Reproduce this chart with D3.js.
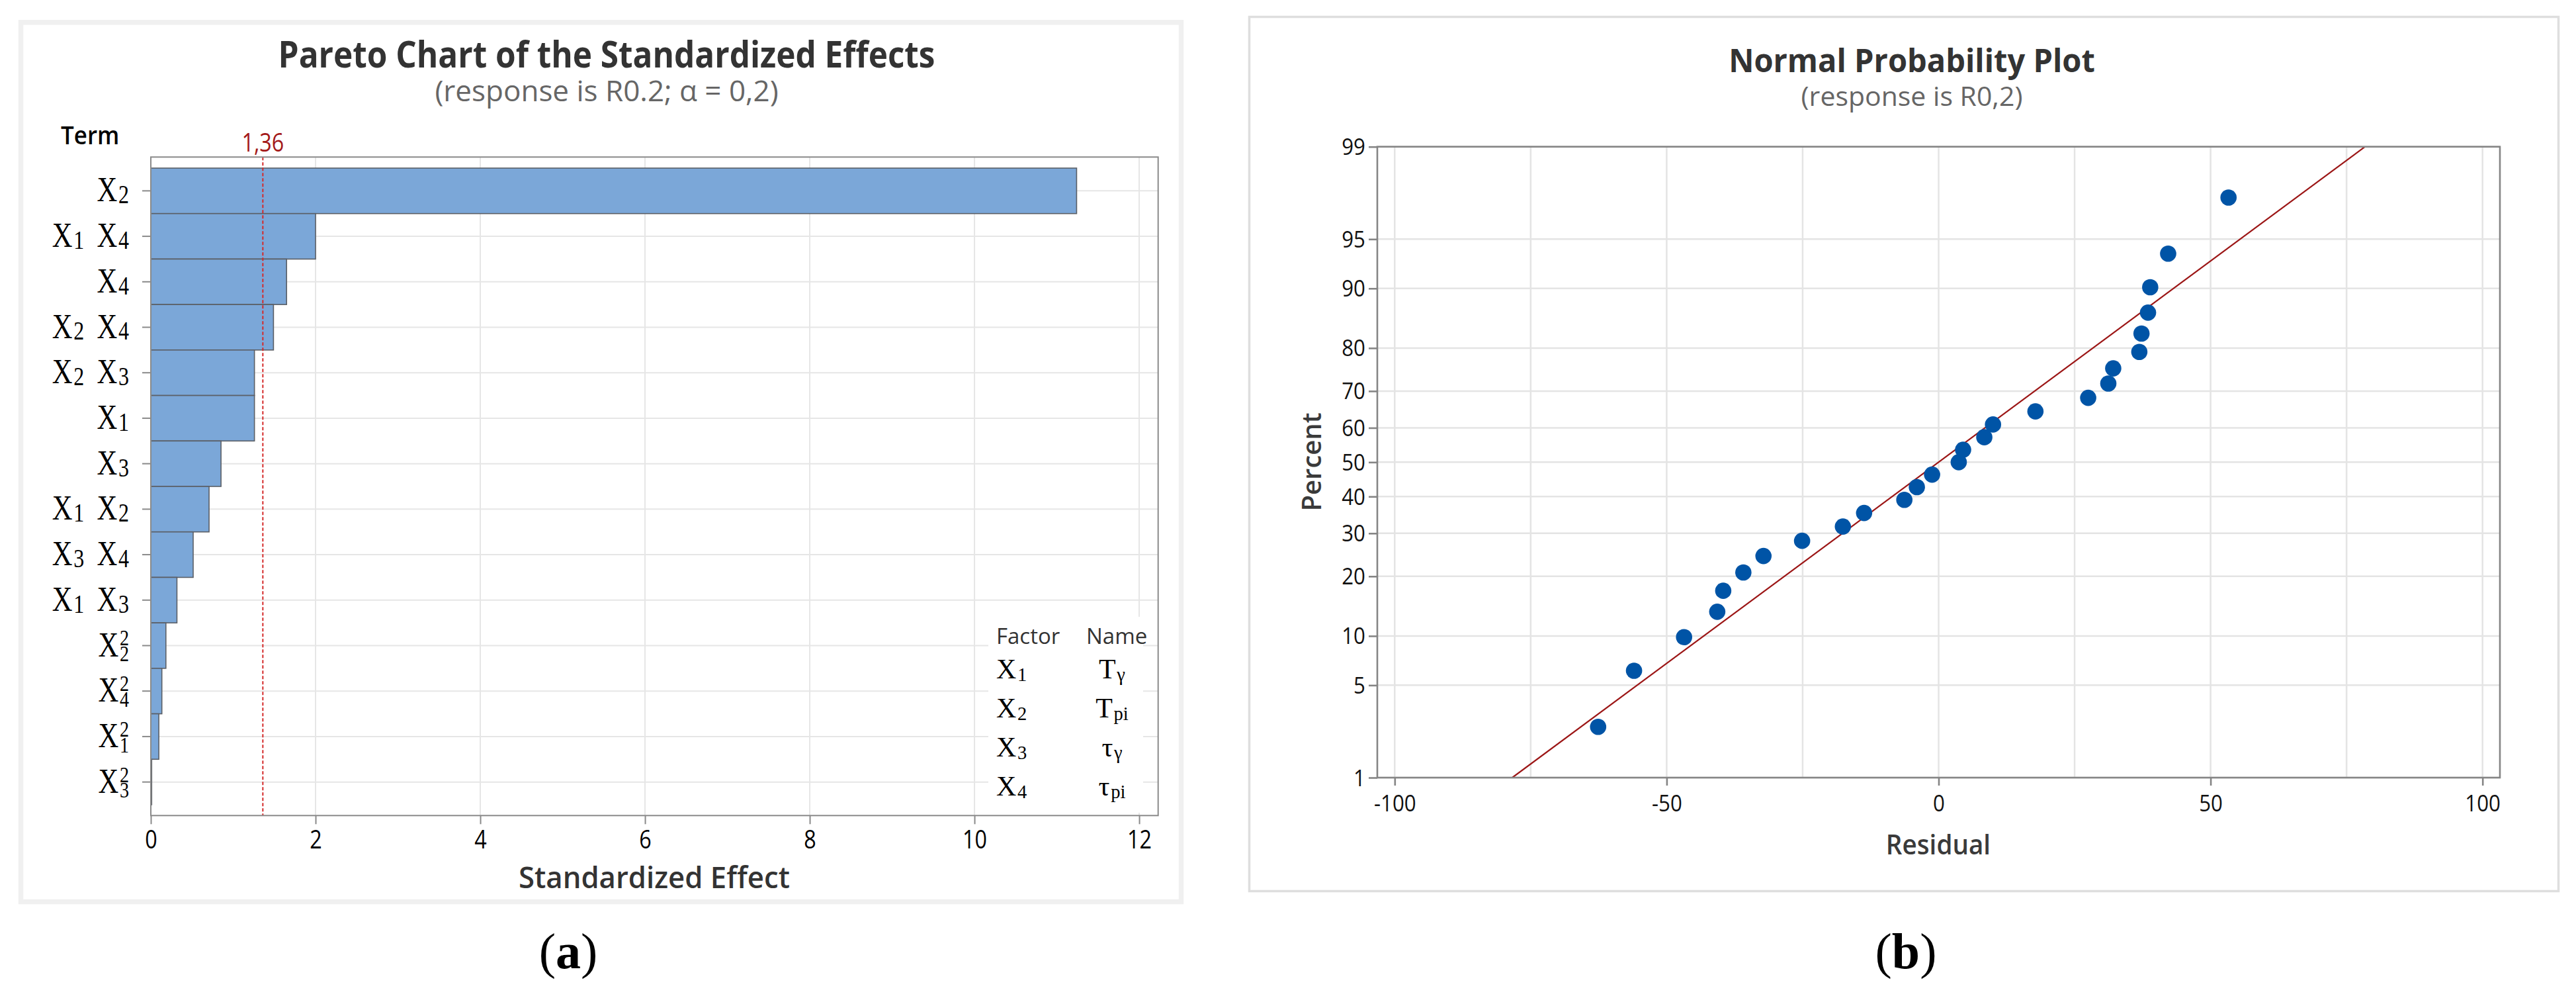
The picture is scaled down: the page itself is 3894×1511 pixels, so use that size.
<!DOCTYPE html>
<html><head><meta charset="utf-8">
<script src="https://cdn.jsdelivr.net/npm/d3@7"></script>
<style>body{margin:0;background:#fff;} svg{display:block;} text{white-space:pre;}</style>
</head><body><svg id="c" width="3894" height="1511"></svg>
<script>
// ---------- data ----------
const paretoTerms = ["X2","X1 X4","X4","X2 X4","X2 X3","X1","X3","X1 X2","X3 X4","X1 X3","X2^2","X4^2","X1^2","X3^2"];
const paretoEffects = [11.24,2.00,1.648,1.489,1.258,1.258,0.852,0.707,0.514,0.317,0.183,0.134,0.097,0.01];
const paretoTicks = [0,2,4,6,8,10,12];
const alphaRef = 1.36;
const alphaLabel = "1,36";
const legendFactors = ["X1","X2","X3","X4"];
const legendNames = ["T_γ","T_pi","τ_γ","τ_pi"];

const residuals = [-62.6,-56.0,-46.8,-40.7,-39.6,-35.9,-32.2,-25.1,-17.6,-13.7,-6.3,-4.0,-1.2,3.7,4.5,8.4,10.0,17.8,27.5,31.2,32.1,36.9,37.3,38.5,38.9,42.2,53.3];
const percents = [2.55,6.2,9.85,13.5,17.15,20.8,24.45,28.1,31.75,35.4,39.05,42.7,46.35,50.0,53.65,57.3,60.95,64.6,68.25,71.9,75.55,79.2,82.85,86.5,90.15,93.8,97.45];
const probTicks = [1,5,10,20,30,40,50,60,70,80,90,95,99];
const residTicks = [-100,-50,0,50,100];
const residGrid = [-100,-75,-50,-25,0,25,50,75,100];
const fitResid = [-78.4, 78.4];
const fitPercent = [1, 99];

// ---------- helpers ----------
const SANS = "'Open Sans','Noto Sans',sans-serif";
const SERIF = "'Liberation Serif','DejaVu Serif',serif";
const svg = d3.select("#c");

function probit(p){
 const a=[-3.969683028665376e+01,2.209460984245205e+02,-2.759285104469687e+02,1.383577518672690e+02,-3.066479806614716e+01,2.506628277459239e+00];
 const b=[-5.447609879822406e+01,1.615858368580409e+02,-1.556989798598866e+02,6.680131188771972e+01,-1.328068155288572e+01];
 const c=[-7.784894002430293e-03,-3.223964580411365e-01,-2.400758277161838e+00,-2.549732539343734e+00,4.374664141464968e+00,2.938163982698783e+00];
 const d=[7.784695709041462e-03,3.224671290700398e-01,2.445134137142996e+00,3.754408661907416e+00];
 const pl=0.02425, ph=1-pl; let q,r;
 if(p<pl){q=Math.sqrt(-2*Math.log(p));return (((((c[0]*q+c[1])*q+c[2])*q+c[3])*q+c[4])*q+c[5])/((((d[0]*q+d[1])*q+d[2])*q+d[3])*q+1);}
 if(p<=ph){q=p-0.5;r=q*q;return (((((a[0]*r+a[1])*r+a[2])*r+a[3])*r+a[4])*r+a[5])*q/(((((b[0]*r+b[1])*r+b[2])*r+b[3])*r+b[4])*r+1);}
 q=Math.sqrt(-2*Math.log(1-p));return -(((((c[0]*q+c[1])*q+c[2])*q+c[3])*q+c[4])*q+c[5])/((((d[0]*q+d[1])*q+d[2])*q+d[3])*q+1);
}

function txt(g,x,y,s,o){
  return g.append("text").attr("transform",`translate(${x},${y}) scale(${o.sx||1},1)`)
   .attr("text-anchor",o.anchor||"start").attr("font-family",o.family||SANS)
   .attr("font-size",o.size).attr("font-weight",o.weight||400).attr("fill",o.fill||"#000").text(s);
}

// math-like label: tokens "X2", "X2^2", "T_pi"
function mathLabel(g,x,y,label,o){
  const size=o.size;
  const t=g.append("text").attr("transform",`translate(${x},${y}) scale(${o.sx||1},1)`)
    .attr("text-anchor",o.anchor||"end").attr("font-family",SERIF).attr("font-size",size).attr("fill","#000");
  let off=0;
  label.split(" ").forEach((tk,i)=>{
    const m=tk.match(/^(.)_?([^\^]*)(\^(\d))?$/);
    const base=m[1], subs=m[2], sup=m[4];
    t.append("tspan").attr("dy",-off).attr("dx",i>0?size*0.2:0).text((i>0?" ":"")+base); off=0;
    if(subs){
      const subSize = size*(sup ? 0.66 : (o.subRatio||0.75));
      const down = sup ? size*0.15 : size*(o.subDown||0.055);
      t.append("tspan").attr("font-size",subSize).attr("dx",size*0.04).attr("dy",down).text(subs); off=down;
      if(sup){
        const up=size*0.31;
        t.append("tspan").attr("font-size",subSize).attr("dx",-subSize*0.5*subs.length).attr("dy",-(down+up)).text(sup); off=-up;
      }
    }
  });
  return t;
}

// ---------- panel frames ----------
svg.append("rect").attr("x",31.5).attr("y",33.8).attr("width",1754).attr("height",1328.7)
  .attr("fill","#fff").attr("stroke","#f0f0f0").attr("stroke-width",7.5);
svg.append("rect").attr("x",1888.5).attr("y",25.5).attr("width",1979).attr("height",1321)
  .attr("fill","#fff").attr("stroke","#dedede").attr("stroke-width",3.5);

// ---------- Panel (a): Pareto ----------
const A = svg.append("g");
const xP = d3.scaleLinear().domain([0,12.23]).range([228,1750.7]);
const yP = d3.scaleBand().domain(paretoTerms).range([254,1216]).padding(0);
const pTop=237.3, pBot=1232.3;

// grid
A.append("g").selectAll("line").data(paretoTicks.slice(1)).join("line")
  .attr("x1",d=>xP(d)).attr("x2",d=>xP(d)).attr("y1",pTop).attr("y2",pBot)
  .attr("stroke","#e6e6e6").attr("stroke-width",2);
A.append("g").selectAll("line").data(paretoTerms).join("line")
  .attr("x1",xP(0)).attr("x2",xP.range()[1]).attr("y1",d=>yP(d)+yP.bandwidth()/2).attr("y2",d=>yP(d)+yP.bandwidth()/2)
  .attr("stroke","#e6e6e6").attr("stroke-width",2);

// legend box (covers grid)
A.append("rect").attr("x",1494).attr("y",932).attr("width",234).attr("height",296).attr("fill","#fff");

// bars
A.append("g").selectAll("rect").data(paretoTerms).join("rect")
  .attr("x",xP(0)).attr("y",d=>yP(d)).attr("height",yP.bandwidth())
  .attr("width",(d,i)=>xP(paretoEffects[i])-xP(0))
  .attr("fill","#7ba7d8").attr("stroke","#5b5f66").attr("stroke-width",1.6);

// reference line
A.append("line").attr("x1",xP(alphaRef)).attr("x2",xP(alphaRef)).attr("y1",pTop).attr("y2",pBot)
  .attr("stroke","#d42a2a").attr("stroke-width",2).attr("stroke-dasharray","5,3");
txt(A,xP(alphaRef),229,alphaLabel,{size:38,anchor:"middle",fill:"#a31818",sx:0.85});

// border
A.append("rect").attr("x",xP(0)).attr("y",pTop).attr("width",xP.range()[1]-xP(0)).attr("height",pBot-pTop)
  .attr("fill","none").attr("stroke","#8a8a8a").attr("stroke-width",2);

// axes
const axB = A.append("g").attr("transform",`translate(0,${pBot})`)
  .call(d3.axisBottom(xP).tickValues(paretoTicks).tickSize(13).tickFormat(d=>String(d)));
axB.select(".domain").remove();
axB.selectAll(".tick line").attr("stroke","#8a8a8a").attr("stroke-width",2);
axB.selectAll(".tick text").attr("y",49.7).attr("dy",0).attr("font-family",SANS).attr("font-size",38)
  .attr("fill","#000").attr("transform",`scale(0.85,1)`);

const axL = A.append("g").attr("transform",`translate(${xP(0)},0)`)
  .call(d3.axisLeft(yP).tickSize(13).tickFormat(""));
axL.select(".domain").remove();
axL.selectAll(".tick line").attr("stroke","#8a8a8a").attr("stroke-width",2);

// term labels
paretoTerms.forEach(tm=>{
  mathLabel(A,195,yP(tm)+yP.bandwidth()/2+16,tm,{size:52,sx:0.82,anchor:"end"});
});

// titles
txt(A,917,102,"Pareto Chart of the Standardized Effects",{size:55,weight:700,anchor:"middle",fill:"#333",sx:0.9});
txt(A,917,153,"(response is R0.2; α = 0,2)",{size:44,anchor:"middle",fill:"#666",sx:1.0});
txt(A,92,218,"Term",{size:38,weight:600,fill:"#000",sx:0.92});
txt(A,989,1342,"Standardized Effect",{size:46,weight:600,anchor:"middle",fill:"#333",sx:0.95});

// legend
txt(A,1506,973,"Factor",{size:33,fill:"#333"});
txt(A,1642,973,"Name",{size:33,fill:"#333"});
const legY = d3.scalePoint().domain(legendFactors).range([1025,1202]);
legendFactors.forEach((f,i)=>{
  mathLabel(A,1506,legY(f),f,{size:42,anchor:"start",subRatio:0.68,subDown:0.1});
  mathLabel(A,1681,legY(f),legendNames[i],{size:42,anchor:"middle",subRatio:0.68,subDown:0.1});
});

// ---------- Panel (b): Normal probability plot ----------
const B = svg.append("g");
const SXB = 0.92;
const xN = d3.scaleLinear().domain([-103.2,103.2]).range([2082,3779]);
const zN = d3.scaleLinear().domain([probit(0.01),probit(0.99)]).range([1175,221.7]);
const yN = p => zN(probit(p/100));
const nL=xN.range()[0], nR=xN.range()[1], nT=221.7, nB=1175;

B.append("g").selectAll("line").data(residGrid).join("line")
  .attr("x1",d=>xN(d)).attr("x2",d=>xN(d)).attr("y1",nT).attr("y2",nB)
  .attr("stroke","#e4e4e4").attr("stroke-width",2.5);
B.append("g").selectAll("line").data(probTicks).join("line")
  .attr("x1",nL).attr("x2",nR).attr("y1",d=>yN(d)).attr("y2",d=>yN(d))
  .attr("stroke","#e4e4e4").attr("stroke-width",2.5);

// fit line
B.append("line").attr("x1",xN(fitResid[0])).attr("y1",yN(fitPercent[0]))
  .attr("x2",xN(fitResid[1])).attr("y2",yN(fitPercent[1]))
  .attr("stroke","#9c1616").attr("stroke-width",2.2);

// points
B.append("g").selectAll("circle").data(residuals).join("circle")
  .attr("cx",d=>xN(d)).attr("cy",(d,i)=>yN(percents[i])).attr("r",12.3).attr("fill","#0054a6");

// border
B.append("rect").attr("x",nL).attr("y",nT).attr("width",nR-nL).attr("height",nB-nT)
  .attr("fill","none").attr("stroke","#858585").attr("stroke-width",2.6);

const bx = B.append("g").attr("transform",`translate(0,${nB})`)
  .call(d3.axisBottom(xN).tickValues(residTicks).tickSize(12).tickFormat(d=>String(d)));
bx.select(".domain").remove();
bx.selectAll(".tick line").attr("stroke","#858585").attr("stroke-width",2.6);
bx.selectAll(".tick text").attr("y",51).attr("dy",0).attr("font-family",SANS).attr("font-size",34)
  .attr("fill","#111").attr("transform",`scale(${SXB},1)`);

const by = B.append("g").attr("transform",`translate(${nL},0)`)
  .call(d3.axisLeft(zN).tickValues(probTicks.map(p=>probit(p/100))).tickSize(13).tickFormat((d,i)=>String(probTicks[i])));
by.select(".domain").remove();
by.selectAll(".tick line").attr("stroke","#858585").attr("stroke-width",2.6);
by.selectAll(".tick text").attr("x",-18/SXB).attr("dy",0).attr("y",12).attr("font-family",SANS).attr("font-size",34)
  .attr("fill","#111").attr("text-anchor","end").attr("transform",`scale(${SXB},1)`);

txt(B,2890,109,"Normal Probability Plot",{size:48,weight:700,anchor:"middle",fill:"#333",sx:0.98});
txt(B,2890,160,"(response is R0,2)",{size:41,anchor:"middle",fill:"#666",sx:1.0});
txt(B,2930,1291,"Residual",{size:42,weight:600,anchor:"middle",fill:"#3a3a3a",sx:SXB});
B.append("text").attr("transform","translate(1997,698) rotate(-90)").attr("text-anchor","middle")
  .attr("font-family",SANS).attr("font-size",40).attr("font-weight",600).attr("fill","#3a3a3a").text("Percent");

// ---------- captions ----------
[["a",859],["b",2881]].forEach(([l,x])=>{
  const t=svg.append("text").attr("x",x).attr("y",1463).attr("text-anchor","middle")
   .attr("font-family",SERIF).attr("font-size",76).attr("fill","#000");
  t.append("tspan").text("(");
  t.append("tspan").attr("font-weight",700).text(l);
  t.append("tspan").text(")");
});
</script></body></html>
